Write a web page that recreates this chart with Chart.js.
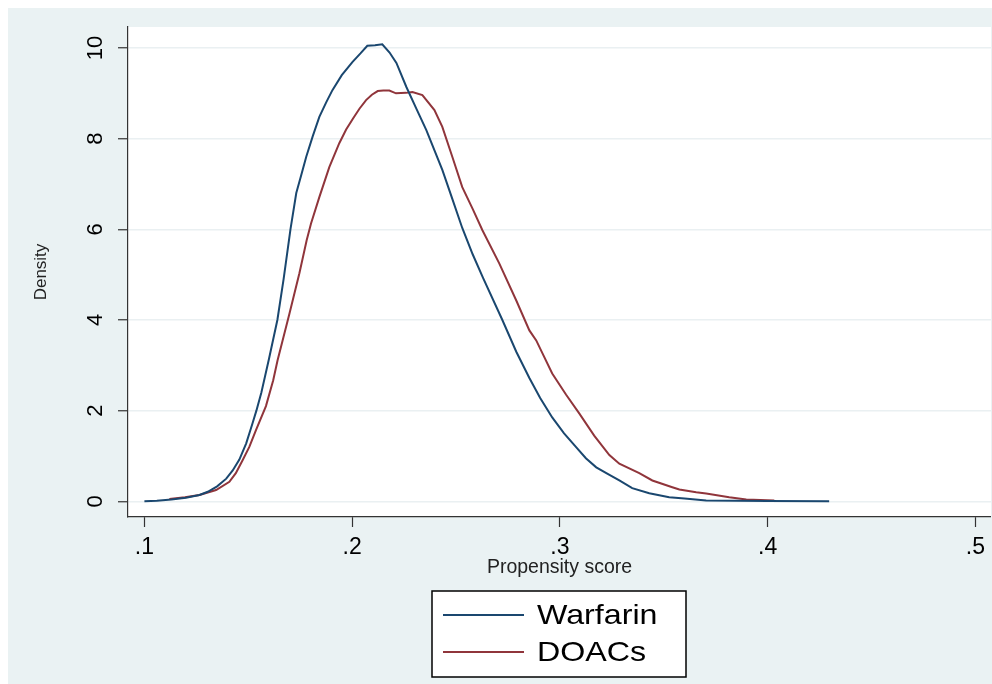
<!DOCTYPE html>
<html>
<head>
<meta charset="utf-8">
<script src="https://cdn.jsdelivr.net/npm/chart.js@4.4.1/dist/chart.umd.min.js"></script>
<style>
  html, body { margin: 0; padding: 0; background: #ffffff; }
  #wrap { width: 992px; height: 684px; }
</style>
</head>
<body>
<div id="wrap"><canvas id="densityChart" width="992" height="684"></canvas></div>
<script>
// Densità del propensity score
const warfarinX = [0.100, 0.106, 0.113, 0.120, 0.1265, 0.1305, 0.135, 0.1394, 0.1425, 0.1457,
    0.149, 0.1519, 0.1539, 0.1563, 0.160, 0.164, 0.167, 0.1703, 0.1731, 0.1755,
    0.1779, 0.181, 0.1842, 0.1875, 0.1905, 0.195, 0.2001, 0.204, 0.2073, 0.211,
    0.2145, 0.218, 0.2213, 0.2261, 0.231, 0.2357, 0.2434, 0.248, 0.253, 0.258,
    0.263, 0.2723, 0.279, 0.2853, 0.2905, 0.2963, 0.302, 0.3079, 0.3125, 0.3175,
    0.3232, 0.3286, 0.3348, 0.343, 0.3526, 0.360, 0.3704, 0.385, 0.400, 0.4296];
const warfarinY = [0.00, 0.01, 0.04, 0.08, 0.14, 0.21, 0.33, 0.50, 0.68, 0.92,
    1.28, 1.70, 2.00, 2.40, 3.15, 4.00, 4.90, 6.00, 6.80, 7.20,
    7.60, 8.05, 8.48, 8.80, 9.07, 9.40, 9.69, 9.88, 10.05, 10.06,
    10.08, 9.90, 9.67, 9.14, 8.65, 8.19, 7.31, 6.70, 6.03, 5.45,
    4.93, 4.00, 3.30, 2.72, 2.28, 1.85, 1.50, 1.19, 0.95, 0.75,
    0.60, 0.46, 0.29, 0.18, 0.09, 0.06, 0.02, 0.01, 0.005, 0.00];

const doacsX = [0.112, 0.1195, 0.1265, 0.1345, 0.1409, 0.144, 0.1472, 0.1505, 0.1537, 0.1585,
    0.162, 0.1641, 0.1698, 0.1746, 0.1781, 0.1802, 0.1842, 0.189, 0.1938, 0.1971,
    0.2005, 0.2035, 0.2067, 0.2095, 0.2123, 0.215, 0.2179, 0.2211, 0.2259, 0.229,
    0.2338, 0.2396, 0.2434, 0.2482, 0.253, 0.258, 0.2627, 0.2708, 0.279, 0.2853,
    0.2886, 0.2963, 0.303, 0.3093, 0.3165, 0.3238, 0.3286, 0.3382, 0.3445, 0.3541,
    0.3575, 0.3656, 0.3704, 0.3815, 0.3897, 0.4032];
const doacsY = [0.05, 0.09, 0.14, 0.25, 0.43, 0.62, 0.90, 1.20, 1.57, 2.10,
    2.67, 3.11, 4.14, 5.03, 5.76, 6.13, 6.71, 7.37, 7.90, 8.20,
    8.45, 8.66, 8.85, 8.97, 9.05, 9.06, 9.06, 9.00, 9.01, 9.03,
    8.96, 8.63, 8.26, 7.60, 6.93, 6.45, 5.98, 5.25, 4.43, 3.77,
    3.55, 2.82, 2.35, 1.94, 1.45, 1.02, 0.83, 0.62, 0.46, 0.31,
    0.26, 0.20, 0.17, 0.09, 0.04, 0.02];

const seriesNames = ['Warfarin', 'DOACs'];
const xTicks = [0.1, 0.2, 0.3, 0.4, 0.5];
const xTickLabels = ['.1', '.2', '.3', '.4', '.5'];
const yTicks = [0, 2, 4, 6, 8, 10];
const yTickLabels = ['0', '2', '4', '6', '8', '10'];

const toPoints = (xs, ys) => xs.map((x, i) => ({ x: x, y: ys[i] }));

// Sfondo stile Stata e legenda in basso
const stataBackground = {
    id: 'stataBackground',
    beforeDraw(chart) {
        const { ctx, chartArea } = chart;
        ctx.save();
        ctx.fillStyle = '#ffffff';
        ctx.fillRect(0, 0, chart.width, chart.height);
        ctx.fillStyle = '#eaf2f3';
        ctx.fillRect(8, 8, chart.width - 8, chart.height - 8);
        ctx.fillStyle = '#ffffff';
        ctx.fillRect(chartArea.left, chartArea.top, chartArea.right - chartArea.left, chartArea.bottom - chartArea.top);
        ctx.restore();
    },
    afterDraw(chart) {
        const { ctx } = chart;
        const box = { x: 432, y: 591, w: 254, h: 86 };
        ctx.save();
        ctx.fillStyle = '#ffffff';
        ctx.fillRect(box.x, box.y, box.w, box.h);
        ctx.strokeStyle = '#000000';
        ctx.lineWidth = 1.5;
        ctx.strokeRect(box.x, box.y, box.w, box.h);
        ctx.font = '28px "Liberation Sans", Arial, sans-serif';
        ctx.textBaseline = 'middle';
        ctx.fillStyle = '#000000';
        chart.data.datasets.forEach((ds, i) => {
            const y = box.y + 24 + i * 37;
            ctx.strokeStyle = ds.borderColor;
            ctx.lineWidth = 2;
            ctx.beginPath();
            ctx.moveTo(box.x + 11, y);
            ctx.lineTo(box.x + 92, y);
            ctx.stroke();
            // testo leggermente allargato come nell'originale
            ctx.save();
            ctx.translate(box.x + 105, y + 1);
            ctx.scale(1.15, 1);
            ctx.fillText(ds.label, 0, 0);
            ctx.restore();
        });
        ctx.restore();
    }
};

const ctx = document.getElementById('densityChart').getContext('2d');
new Chart(ctx, {
    type: 'scatter',
    data: {
        datasets: [{
            label: seriesNames[0],
            data: toPoints(warfarinX, warfarinY),
            borderColor: '#1a476f',
            backgroundColor: '#1a476f',
            borderWidth: 2,
            showLine: true,
            pointRadius: 0,
            tension: 0
        }, {
            label: seriesNames[1],
            data: toPoints(doacsX, doacsY),
            borderColor: '#90353b',
            backgroundColor: '#90353b',
            borderWidth: 2,
            showLine: true,
            pointRadius: 0,
            tension: 0
        }]
    },
    options: {
        responsive: false,
        animation: false,
        layout: { padding: { top: 27, left: 0, right: 0, bottom: 0 } },
        plugins: {
            legend: { display: false },
            tooltip: { enabled: false }
        },
        scales: {
            x: {
                type: 'linear',
                min: 0.0921,
                max: 0.5075,
                afterFit: scale => { scale.height = 167; },
                afterBuildTicks: scale => { scale.ticks = xTicks.map(v => ({ value: v })); },
                grid: { drawOnChartArea: false, tickLength: 10, tickColor: '#333333', tickWidth: 1.2 },
                border: { color: '#333333', width: 1.2 },
                ticks: {
                    autoSkip: false,
                    maxRotation: 0,
                    padding: 7,
                    color: '#000000',
                    font: { family: '"Liberation Sans", Arial, sans-serif', size: 23 },
                    callback: (value, index) => xTickLabels[index]
                },
                title: {
                    display: true,
                    text: 'Propensity score',
                    color: '#222222',
                    font: { family: '"Liberation Sans", Arial, sans-serif', size: 19.5 },
                    padding: { top: 0, bottom: 105 }
                }
            },
            y: {
                type: 'linear',
                min: -0.346,
                max: 10.463,
                afterFit: scale => { scale.width = 128; },
                afterBuildTicks: scale => { scale.ticks = yTicks.map(v => ({ value: v })); },
                grid: { color: '#eaf0f2', lineWidth: 1.5, tickLength: 10, tickColor: '#333333', tickWidth: 1.2 },
                border: { color: '#333333', width: 1.2 },
                ticks: {
                    autoSkip: false,
                    minRotation: 90,
                    maxRotation: 90,
                    crossAlign: 'center',
                    padding: 10,
                    color: '#000000',
                    font: { family: '"Liberation Sans", Arial, sans-serif', size: 22 },
                    callback: (value, index) => yTickLabels[index]
                },
                title: {
                    display: true,
                    text: 'Density',
                    color: '#222222',
                    font: { family: '"Liberation Sans", Arial, sans-serif', size: 17 },
                    padding: { top: 31, bottom: 0 }
                }
            }
        }
    },
    plugins: [stataBackground]
});
</script>
</body>
</html>
